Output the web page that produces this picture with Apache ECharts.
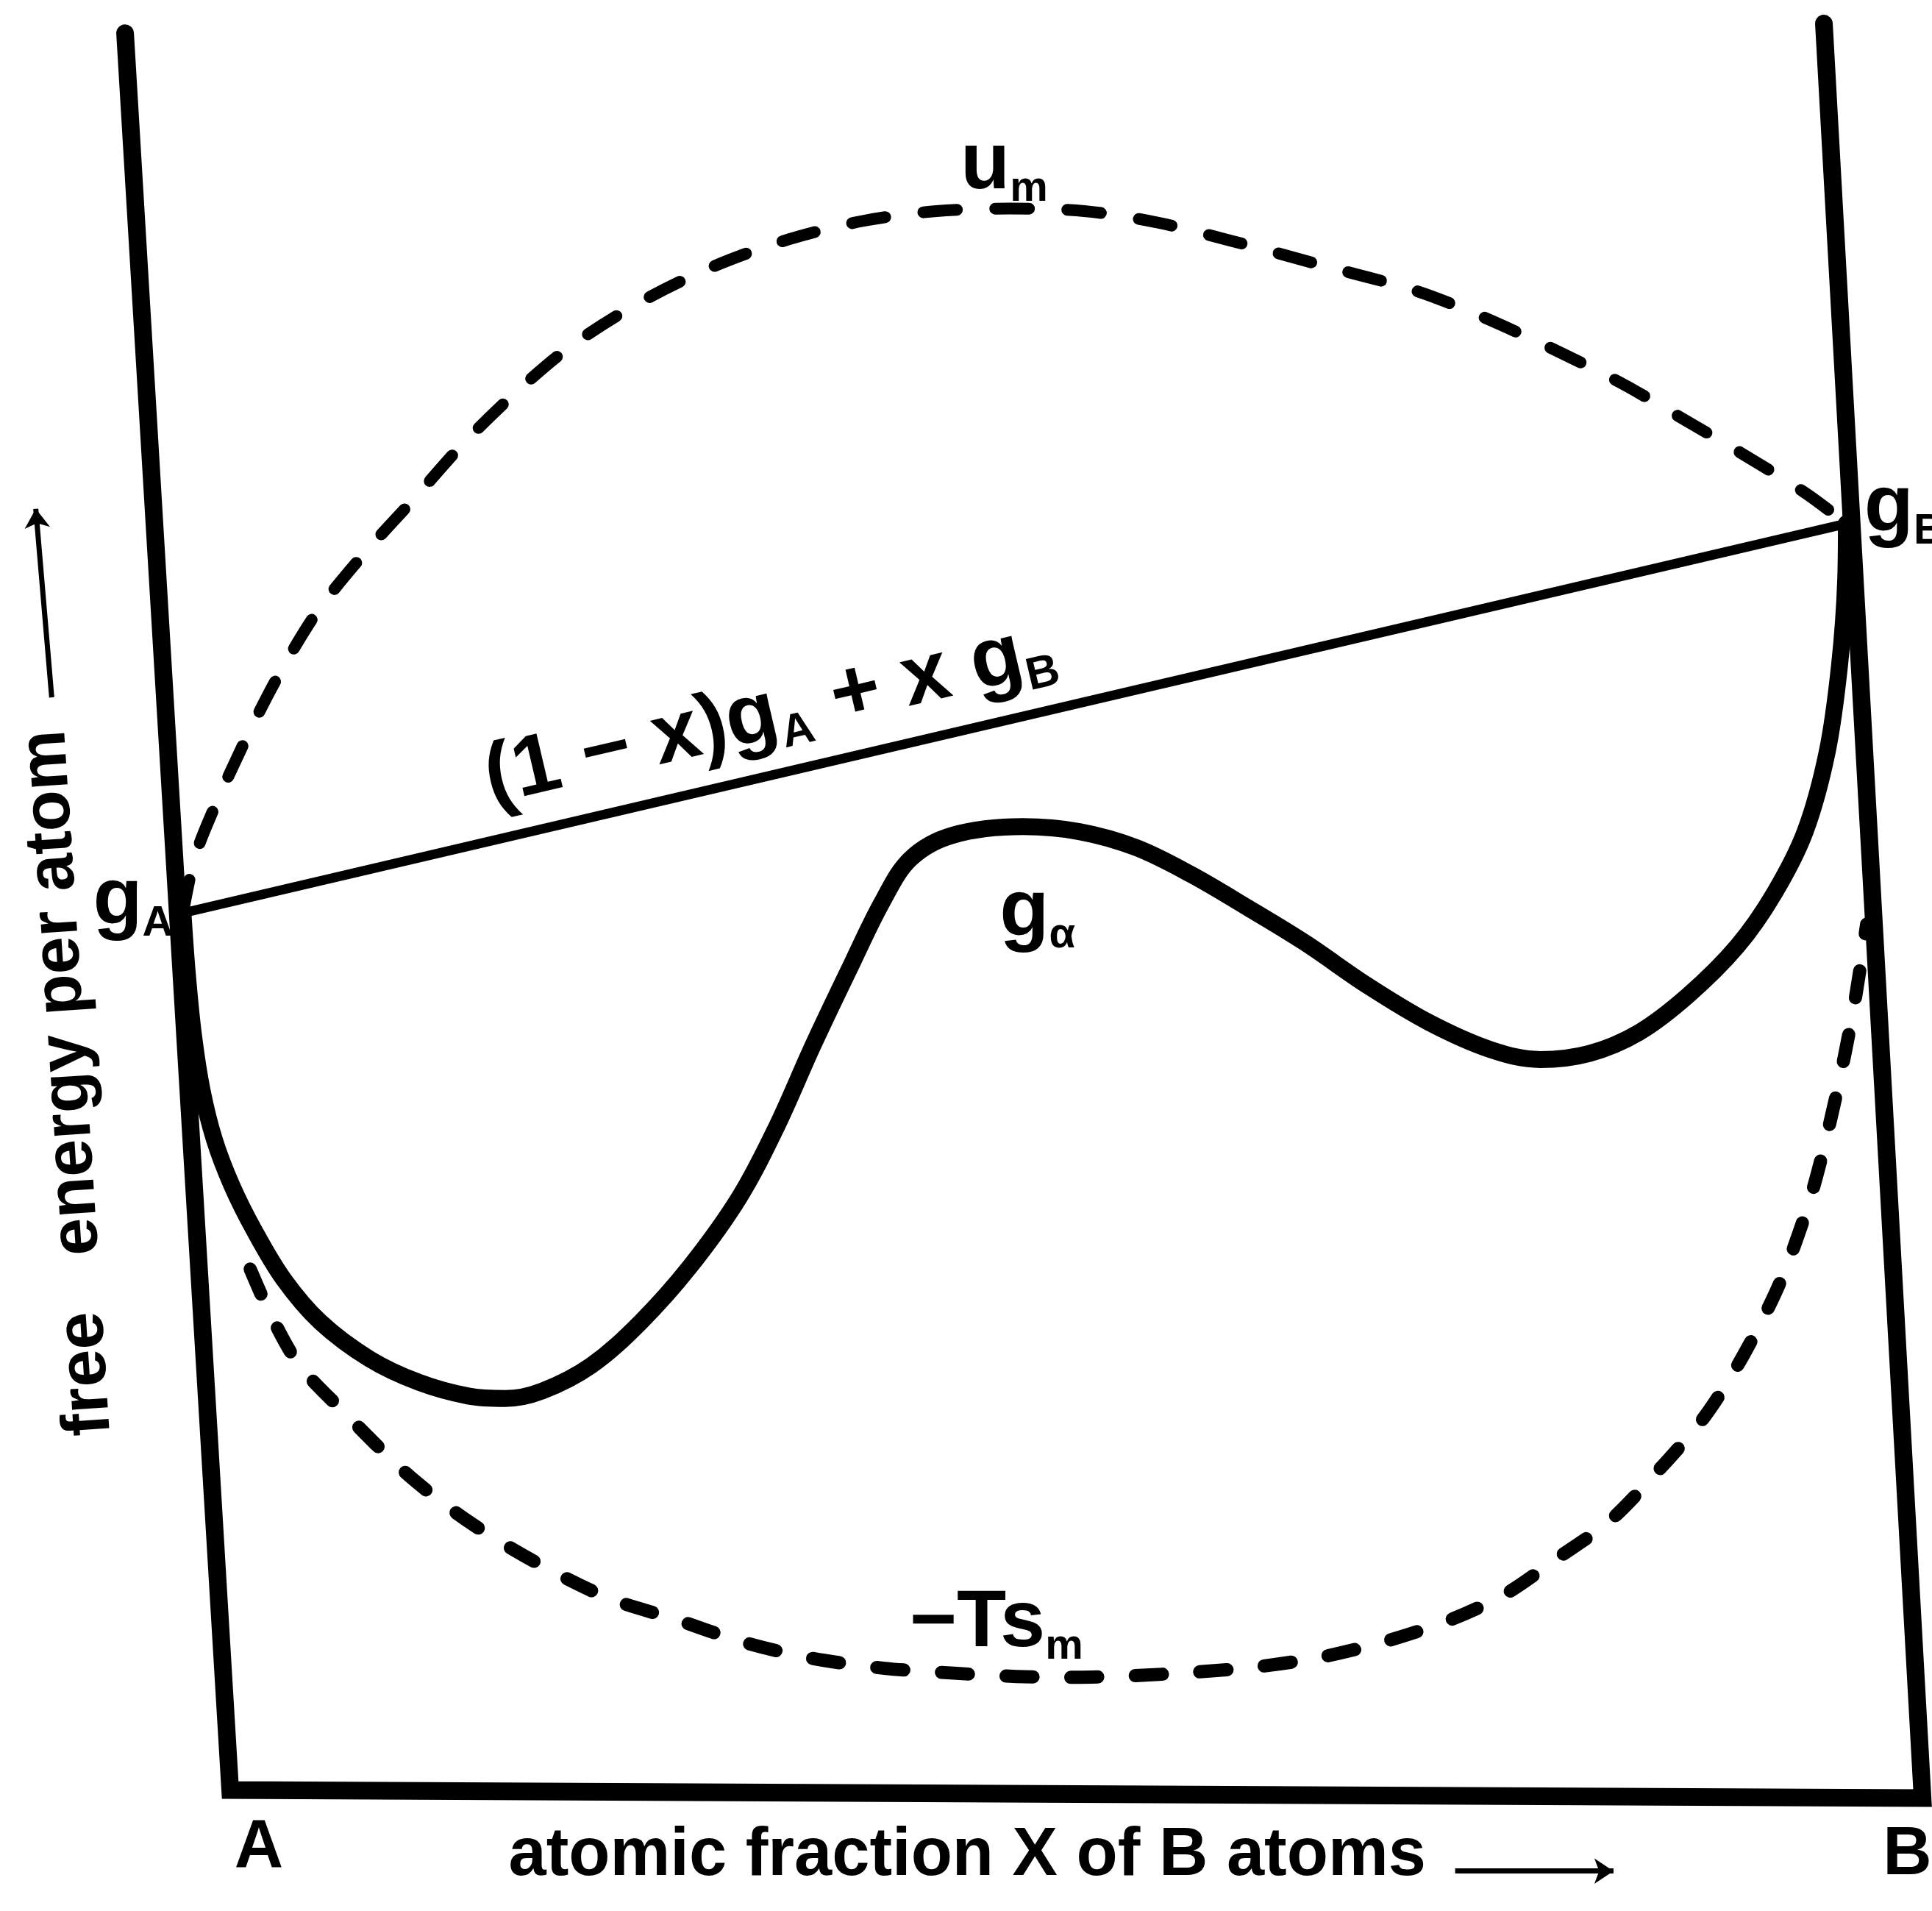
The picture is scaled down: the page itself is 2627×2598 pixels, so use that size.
<!DOCTYPE html>
<html>
<head>
<meta charset="utf-8">
<script src="https://cdn.jsdelivr.net/npm/echarts@6/dist/echarts.min.js"></script>
<style>
  html, body { margin: 0; padding: 0; background: #fff; }
  #chart { width: 2627px; height: 2598px; }
</style>
</head>
<body>
<div id="chart"></div>
<script>
// x: atomic fraction of B in % (0 = g_A side, 100 = g_B side)
// y: free energy per atom, arbitrary units (0 = base line)
const frameX = [-3.48, 2.84, 104.58, 98.65];
const frameY = [105.89, 0.27, -0.21, 106.47];

const chordX = [0, 100];
const chordY = [53.0, 76.41];

const gAlphaX = [0, 0.26, 0.63, 1.15, 1.89, 2.93, 4.26, 6.04, 8.26, 11.22,
  14.19, 17.15, 19.37, 21.59, 24.56, 27.52, 30.48, 33.44, 35.67, 37.89,
  40.11, 42.04, 43.74, 46.26, 50.5, 53.89, 57.3, 60.63, 64.04, 67.44,
  71.22, 74.93, 78.63, 81.59, 84.56, 87.52, 90.48, 93.44, 95.67, 97.52,
  98.85, 99.59, 99.96, 100];
const gAlphaY = [53.0, 49.37, 45.67, 42.33, 39.37, 36.63, 33.96, 31.0, 28.41, 26.19,
  24.78, 23.96, 23.81, 24.26, 25.81, 28.41, 31.74, 35.89, 40.11, 45.07,
  49.74, 53.67, 56.26, 57.67, 58.19, 57.89, 56.93, 55.3, 53.3, 51.22,
  48.63, 46.41, 44.78, 44.19, 44.56, 45.81, 48.04, 51.0, 54.19, 57.89,
  62.7, 67.89, 73.07, 76.41];

const umX = [0, 0.7, 1.74, 3.74, 5.67, 8.04, 10.85, 13.81, 16.78, 20.04,
  23.3, 27.52, 31.96, 36.41, 40.85, 45.3, 49.74, 54.19, 58.63, 63.07,
  68.63, 74.11, 78.11, 82.48, 86.48, 90.19, 93.59, 97.52, 100];
const umY = [53.0, 56.3, 59.0, 63.37, 67.15, 71.07, 74.56, 77.81, 81.15, 84.33,
  87.07, 89.74, 91.9, 93.5, 94.6, 95.2, 95.35, 95.2, 94.5, 93.4,
  91.9, 90.41, 88.85, 86.85, 84.85, 82.7, 80.7, 78.26, 76.41];

const tsX = [4.04, 5.3, 7.0, 9.74, 13.44, 17.07, 21.22, 25.59, 29.52, 33.74,
  37.81, 42.19, 46.33, 50.11, 53.67, 57.22, 60.7, 64.48, 68.41, 72.33,
  76.33, 79.59, 82.7, 85.81, 88.93, 91.52, 93.81, 96.04, 97.89, 99.37,
  100.48, 101.22];
const tsY = [31.59, 28.78, 25.81, 22.93, 19.3, 16.48, 13.96, 11.81, 10.56, 9.15,
  8.19, 7.59, 7.3, 7.1, 7.05, 7.15, 7.35, 7.67, 8.26, 9.22,
  10.56, 12.11, 14.26, 16.48, 19.74, 22.78, 26.41, 30.85, 36.04, 41.96,
  47.52, 52.33];

// axis arrows: [tail, head]
const xArrowX = [76.48, 86.0];
const xArrowY = [-4.6, -4.6];
const yArrowX = [-7.89, -8.85];
const yArrowY = [65.96, 77.3];

const FONT = '"Liberation Sans", Arial, sans-serif';

// text labels: formatter, anchor point, rotation
const labels = [
  { text: '{m|u}{s|m}', x: 49.37, y: 97.9 },
  { text: '{m|g}{s|A}', x: -3.0, y: 53.7 },
  { text: '{m|g}{s|B}', x: 101.07, y: 77.3, align: 'left' },
  { text: '{m|g}{s|α}', x: 51.37, y: 53.0 },
  { text: '{m|−Ts}{s|m}', x: 48.9, y: 10.26 },
  { text: '{c|(1 − x)g}{cs|A}{c| + x g}{cs|B}', x: 35.3, y: 64.93, rotate: 13.2 },
  { text: '{a|free   energy per atom}', x: -6.9, y: 42.78, rotate: 93.7 },
  { text: '{a|atomic fraction X of B atoms}', x: 47.15, y: -3.7 },
  { text: '{a|A}', x: 4.56, y: -3.22 },
  { text: '{a|B}', x: 103.67, y: -3.67 }
];

const zip = (xs, ys) => xs.map((x, i) => [x, ys[i]]);

const txt = (size, extra) => Object.assign({
  fontSize: size, fontFamily: FONT, fontWeight: 'bold', color: '#000',
  textBorderWidth: 0
}, extra || {});

const rich = {
  m: txt(110, { lineHeight: 120 }),
  s: txt(58, { lineHeight: 44, verticalAlign: 'bottom' }),
  c: txt(115, { lineHeight: 125 }),
  cs: txt(62, { lineHeight: 46, verticalAlign: 'bottom' }),
  a: txt(92, { lineHeight: 100 })
};

const curve = (data, width, type, smooth) => ({
  type: 'line',
  data: data,
  showSymbol: false,
  symbol: 'none',
  smooth: smooth,
  silent: true,
  clip: false,
  lineStyle: { color: '#000', width: width, type: type, cap: 'round', join: 'round' }
});

const chart = echarts.init(document.getElementById('chart'), null, { renderer: 'canvas' });
chart.setOption({
  animation: false,
  backgroundColor: '#fff',
  grid: { left: 0, right: 0, top: 0, bottom: 0 },
  xAxis: { type: 'value', min: -11, max: 105.148, show: false },
  yAxis: { type: 'value', min: -7, max: 107.889, show: false },
  series: [
    Object.assign(curve(zip(frameX, frameY), 24, 'solid', false),
      { lineStyle: { color: '#000', width: 24, cap: 'round', join: 'miter' } }),
    curve(zip(chordX, chordY), 13, 'solid', false),
    curve(zip(umX, umY), 16, [46, 52], 0.3),
    curve(zip(tsX, tsY), 18, [37, 51], 0.3),
    curve(zip(gAlphaX, gAlphaY), 23, 'solid', 0.35),
    {
      type: 'lines',
      coordinateSystem: 'cartesian2d',
      silent: true,
      symbol: ['none', 'arrow'],
      symbolSize: 26,
      lineStyle: { color: '#000', width: 7, opacity: 1, curveness: 0 },
      data: [
        { coords: zip(xArrowX, xArrowY) },
        { coords: zip(yArrowX, yArrowY) }
      ]
    },
    {
      type: 'scatter',
      silent: true,
      symbolSize: 1,
      itemStyle: { color: 'rgba(0,0,0,0)', opacity: 1 },
      z: 5,
      data: labels.map(l => ({
        value: [l.x, l.y],
        label: {
          show: true,
          position: 'inside',
          color: '#000',
          opacity: 1,
          textBorderWidth: 0,
          formatter: l.text,
          rotate: l.rotate || 0,
          align: l.align || 'center',
          verticalAlign: 'middle',
          rich: rich
        }
      }))
    }
  ]
});
</script>
</body>
</html>
